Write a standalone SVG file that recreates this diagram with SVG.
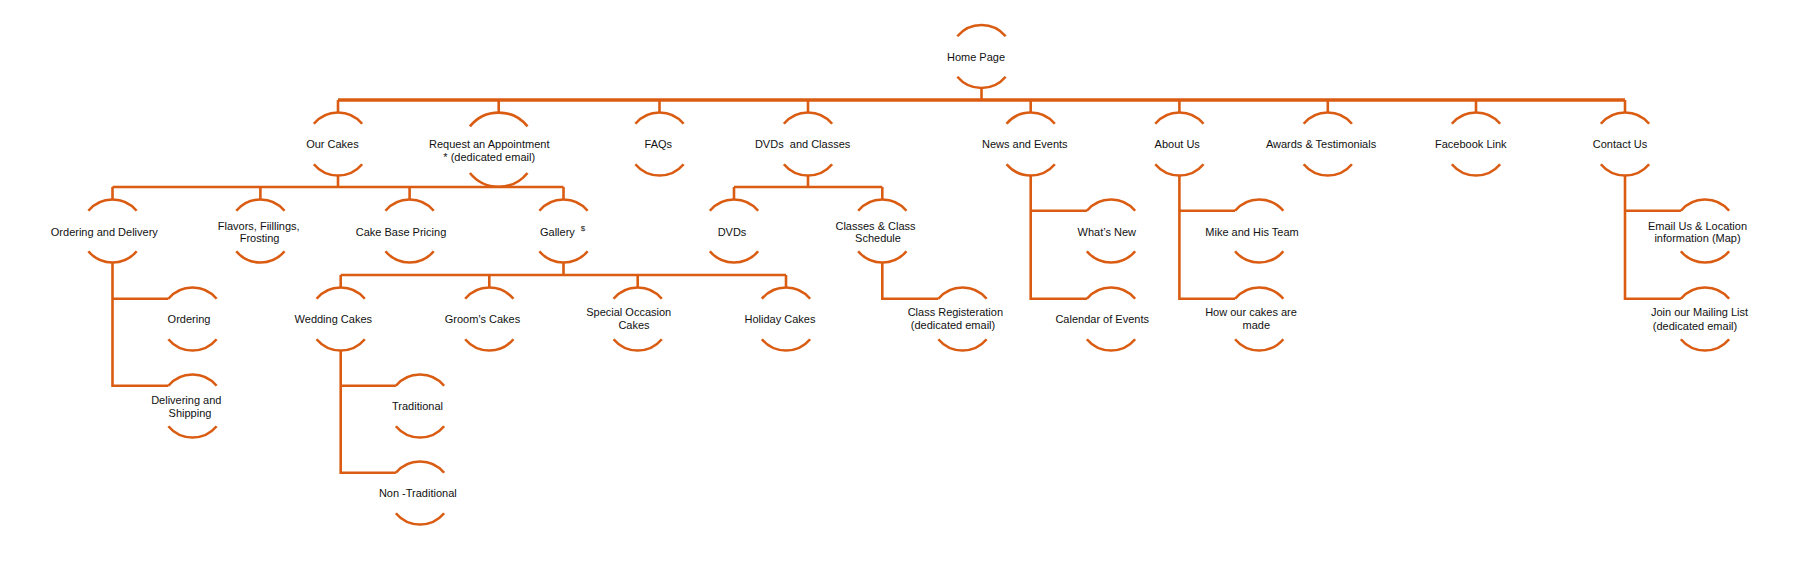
<svg xmlns="http://www.w3.org/2000/svg" xmlns:xlink="http://www.w3.org/1999/xlink" width="1800" height="564" viewBox="0 0 1800 564">
<style>
.arc{fill:none;stroke:#da5c12;stroke-width:2.6}
.con{fill:none;stroke:#da5c12;stroke-width:2.6}
.bus{fill:none;stroke:#da5c12;stroke-width:3.6}
text{font-family:"Liberation Sans",Arial,sans-serif;font-size:11px;fill:#111;text-anchor:middle}
.sup{font-size:8px}
</style>
<defs>
<path id="node" class="arc" d="M-24.13,-20.25 A31.5,31.5 0 0 1 24.13,-20.25 M-24.13,20.25 A31.5,31.5 0 0 0 24.13,20.25"/>
<path id="nodeL" class="arc" d="M-28.8,-23.3 A37,37 0 0 1 28.8,-23.3 M-28.8,23.3 A37,37 0 0 0 28.8,23.3"/>
</defs>
<rect width="1800" height="564" fill="#fff"/>
<g id="connectors">
<path class="bus" d="M338,100 H1625"/>
<path class="con" d="M981.5,88 V100 M338,100 V112.5 M498.7,100 V112.7 M659.5,100 V112.5 M808,100 V112.5 M1030.7,100 V112.5 M1179.4,100 V112.5 M1327.8,100 V112.5 M1476,100 V112.5 M1625,100 V112.5"/>
<path class="con" d="M338,175.5 V187 M112.5,187 H563.5 M112.5,187 V199.5 M260.4,187 V199.5 M409.6,187 V199.5 M563.5,187 V199.5"/>
<path class="con" d="M808,175.5 V187 M734,187 H882.3 M734,187 V199.5 M882.3,187 V199.5"/>
<path class="con" d="M112.5,262.5 V385.75 H168.4 M112.5,298.75 H168.4"/>
<path class="con" d="M563.5,262.5 V275 M340.7,275 H786 M340.7,275 V287.5 M489.3,275 V287.5 M637.7,275 V287.5 M786,275 V287.5"/>
<path class="con" d="M340.7,350.5 V472.75 H395.9 M340.7,385.75 H395.9"/>
<path class="con" d="M882.3,262.5 V298.75 H938.4"/>
<path class="con" d="M1030.7,175.5 V298.75 H1086.9 M1030.7,210.75 H1086.9"/>
<path class="con" d="M1179.4,175.5 V298.75 H1235.1 M1179.4,210.75 H1235.1"/>
<path class="con" d="M1625,175.5 V298.75 H1680.9 M1625,210.75 H1680.9"/>
</g>
<g id="home" transform="translate(981.5,56.5)"><use xlink:href="#node"/><text x="-5.5" y="4.5">Home Page</text></g>
<g id="our-cakes" transform="translate(338,144)"><use xlink:href="#node"/><text x="-5.6" y="4">Our Cakes</text></g>
<g id="request" transform="translate(498.7,149.7)"><use xlink:href="#nodeL"/><text x="-9.5" y="-1.7">Request an Appointment</text><text x="-9.5" y="11.3">* (dedicated email)</text></g>
<g id="faqs" transform="translate(659.5,144)"><use xlink:href="#node"/><text x="-1.2" y="4">FAQs</text></g>
<g id="dvds-classes" transform="translate(808,144)"><use xlink:href="#node"/><text x="-5.4" y="4" xml:space="preserve">DVDs  and Classes</text></g>
<g id="news" transform="translate(1030.7,144)"><use xlink:href="#node"/><text x="-5.9" y="4">News and Events</text></g>
<g id="about" transform="translate(1179.4,144)"><use xlink:href="#node"/><text x="-2.2" y="4">About Us</text></g>
<g id="awards" transform="translate(1327.8,144)"><use xlink:href="#node"/><text x="-6.8" y="4">Awards &amp; Testimonials</text></g>
<g id="facebook" transform="translate(1476,144)"><use xlink:href="#node"/><text x="-5.2" y="4">Facebook Link</text></g>
<g id="contact" transform="translate(1625,144)"><use xlink:href="#node"/><text x="-5" y="4">Contact Us</text></g>
<g id="ordering-delivery" transform="translate(112.5,231)"><use xlink:href="#node"/><text x="-8.2" y="5">Ordering and Delivery</text></g>
<g id="flavors" transform="translate(260.4,231)"><use xlink:href="#node"/><text x="-1.7" y="-1.5">Flavors, Fiillings,</text><text x="-0.8" y="11">Frosting</text></g>
<g id="cake-base" transform="translate(409.6,231)"><use xlink:href="#node"/><text x="-8.6" y="5">Cake Base Pricing</text></g>
<g id="gallery" transform="translate(563.5,231)"><use xlink:href="#node"/><text x="-6.1" y="5">Gallery</text><text class="sup" x="19.5" y="0">$</text></g>
<g id="dvds" transform="translate(734,231)"><use xlink:href="#node"/><text x="-2" y="5">DVDs</text></g>
<g id="classes" transform="translate(882.3,231)"><use xlink:href="#node"/><text x="-6.8" y="-1.5">Classes &amp; Class</text><text x="-4.3" y="11">Schedule</text></g>
<g id="whats-new" transform="translate(1111,231)"><use xlink:href="#node"/><text x="-4.2" y="5">What’s New</text></g>
<g id="mike" transform="translate(1259.2,231)"><use xlink:href="#node"/><text x="-7.2" y="5">Mike and His Team</text></g>
<g id="email" transform="translate(1705,231)"><use xlink:href="#node"/><text x="-7.5" y="-1.5">Email Us &amp; Location</text><text x="-7.5" y="10.5">information (Map)</text></g>
<g id="ordering" transform="translate(192.5,319)"><use xlink:href="#node"/><text x="-3.5" y="4">Ordering</text></g>
<g id="wedding" transform="translate(340.7,319)"><use xlink:href="#node"/><text x="-7.4" y="4">Wedding Cakes</text></g>
<g id="grooms" transform="translate(489.3,319)"><use xlink:href="#node"/><text x="-6.8" y="4">Groom's Cakes</text></g>
<g id="special" transform="translate(637.7,319)"><use xlink:href="#node"/><text x="-9" y="-3">Special Occasion</text><text x="-3.7" y="10">Cakes</text></g>
<g id="holiday" transform="translate(786,319)"><use xlink:href="#node"/><text x="-6" y="4">Holiday Cakes</text></g>
<g id="class-reg" transform="translate(962.5,319)"><use xlink:href="#node"/><text x="-7.2" y="-3">Class Registeration</text><text x="-9.5" y="10">(dedicated email)</text></g>
<g id="calendar" transform="translate(1111,319)"><use xlink:href="#node"/><text x="-8.8" y="4">Calendar of Events</text></g>
<g id="how" transform="translate(1259.2,319)"><use xlink:href="#node"/><text x="-8.2" y="-3">How our cakes are</text><text x="-2.9" y="10">made</text></g>
<g id="join" transform="translate(1705,319)"><use xlink:href="#node"/><text x="-5.5" y="-3">Join our Mailing List</text><text x="-10" y="10.5">(dedicated email)</text></g>
<g id="delivering" transform="translate(192.5,406)"><use xlink:href="#node"/><text x="-6.2" y="-2">Delivering and</text><text x="-2.5" y="10.5">Shipping</text></g>
<g id="traditional" transform="translate(420,406)"><use xlink:href="#node"/><text x="-2.5" y="4">Traditional</text></g>
<g id="non-traditional" transform="translate(420,493)"><use xlink:href="#node"/><text x="-2.2" y="3.5">Non -Traditional</text></g>
</svg>
